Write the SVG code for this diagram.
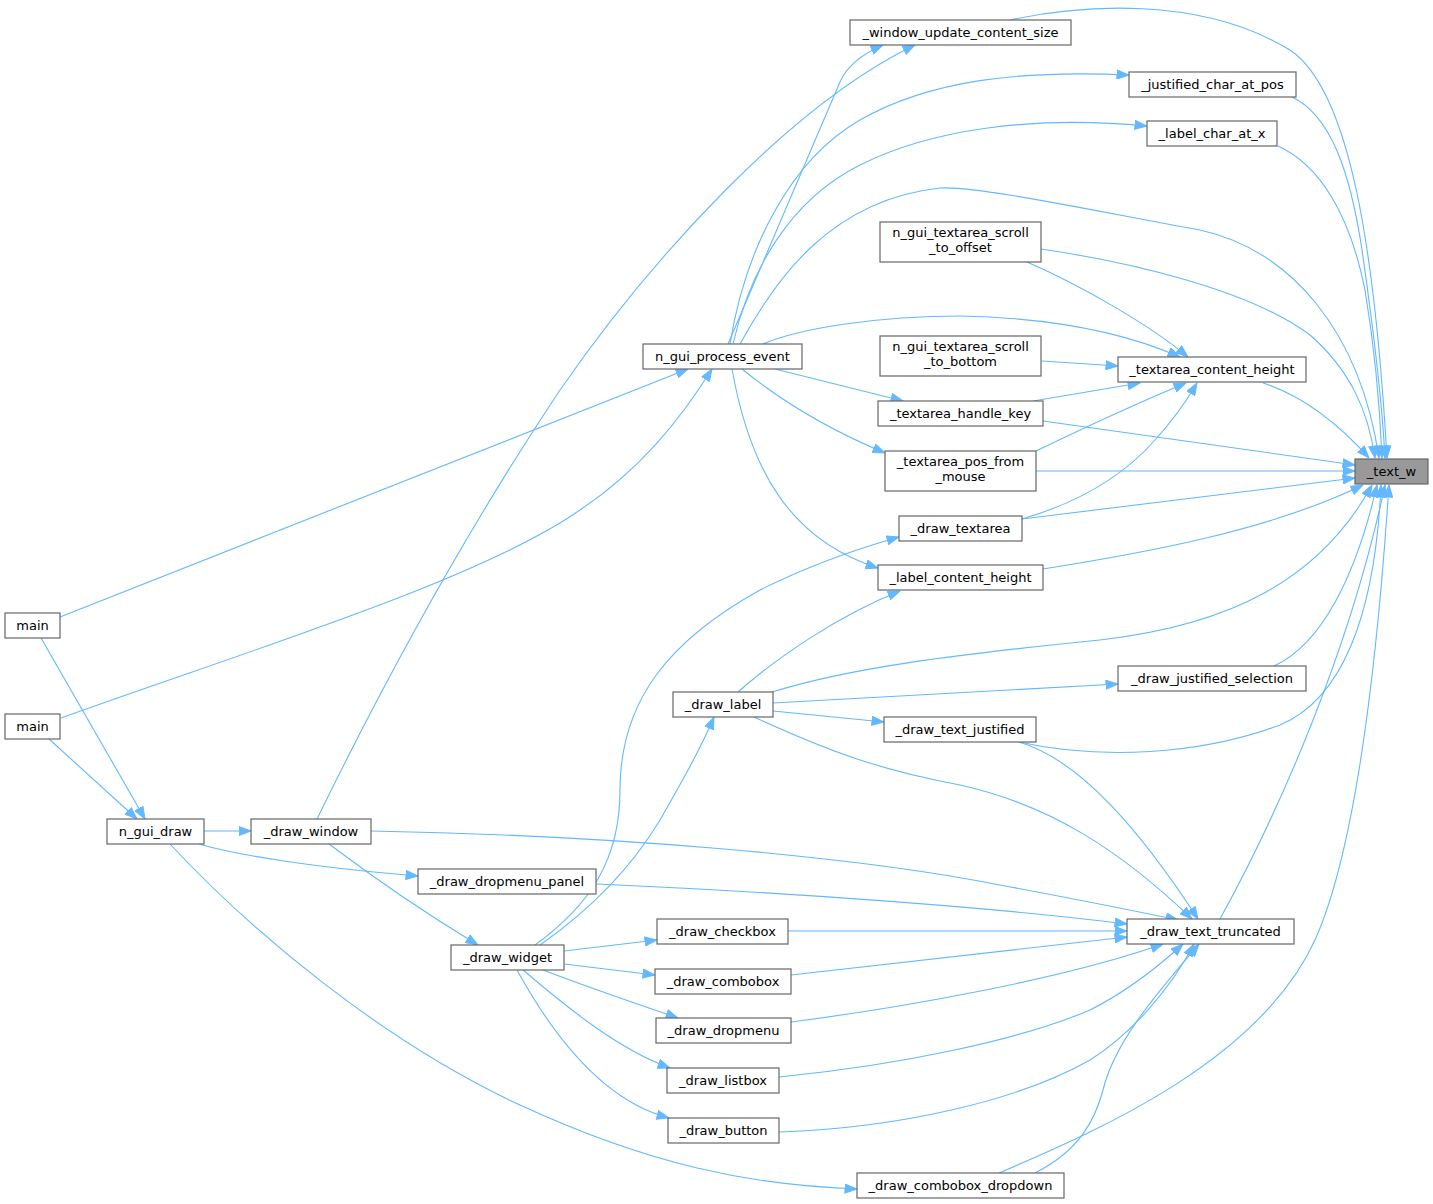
<svg xmlns="http://www.w3.org/2000/svg" width="1433" height="1204" viewBox="0 0 1433 1204">
<style>
.node rect{fill:#ffffff;stroke:#666666;stroke-width:1.2}
.node rect.hl{fill:#999999}
.node text{font-family:"DejaVu Sans","Liberation Sans",sans-serif;font-size:13px;fill:#000000;text-anchor:middle}
.edges path{fill:none;stroke:#63b8ff;stroke-width:1.1;marker-end:url(#ah)}
</style>
<defs>
<marker id="ah" markerUnits="userSpaceOnUse" markerWidth="13" markerHeight="10" refX="12.5" refY="5" orient="auto">
<path d="M0.5,0.5 L12.5,5 L0.5,9.5 z" fill="#63b8ff" stroke="#63b8ff" stroke-width="1"/>
</marker>
</defs>
<rect x="0" y="0" width="1433" height="1204" fill="#ffffff"/>
<g id="edges" class="edges">
<!-- into _text_w -->
<path d="M1010,20 C1080,5 1200,-5 1290,50 C1350,90 1375,250 1387,458"/>
<path d="M1292,97 C1330,115 1350,170 1362,250 C1375,340 1382,400 1385,458"/>
<path d="M1278,146 C1320,165 1350,215 1365,290 C1375,350 1380,410 1382,458"/>
<path d="M740,344 C775,280 830,200 940,188 C980,186 1100,212 1200,230 C1290,250 1360,330 1379,458"/>
<path d="M1041,249 C1130,262 1250,290 1310,335 C1350,370 1368,410 1375,458"/>
<path d="M1263,383 C1300,395 1335,420 1369,458"/>
<path d="M1043,421 L1355,465"/>
<path d="M1036,471 L1355,471"/>
<path d="M1022,519 L1355,478"/>
<path d="M1043,569 C1150,552 1270,530 1363,485"/>
<path d="M772,692 C850,668 950,655 1100,640 C1230,625 1320,580 1372,485"/>
<path d="M1274,666 C1320,645 1355,580 1377,485"/>
<path d="M1019,742 C1100,760 1200,755 1280,725 C1340,700 1375,620 1381,485"/>
<path d="M1220,919 C1280,810 1350,650 1385,485"/>
<path d="M999,1173 C1100,1130 1260,1060 1315,940 C1360,840 1380,620 1389,485"/>
<!-- into _textarea_content_height -->
<path d="M763,344 C800,328 880,316 960,316 C1060,318 1130,335 1180,357"/>
<path d="M1027,262 C1080,285 1150,325 1188,357"/>
<path d="M1042,361 L1118,366"/>
<path d="M1033,401 L1140,383"/>
<path d="M1036,451 C1090,425 1140,402 1186,383"/>
<path d="M1022,519 C1070,505 1120,480 1155,440 C1175,418 1190,395 1197,383"/>
<!-- n_gui_process_event callees -->
<path d="M728,344 L840,82 C846,68 860,55 883,45"/>
<path d="M730,344 C745,250 790,160 860,120 C930,80 1020,70 1129,75"/>
<path d="M733,344 C750,270 790,200 860,165 C930,130 1030,115 1147,126"/>
<path d="M775,369 L903,401"/>
<path d="M742,369 C780,400 830,430 885,453"/>
<path d="M732,369 C750,470 790,540 878,568"/>
<!-- into n_gui_process_event -->
<path d="M60,617 L688,369"/>
<path d="M61,718 C250,650 480,580 580,510 C640,470 680,420 712,369"/>
<!-- _draw_window -> _window_update_content_size -->
<path d="M317,819 C380,690 460,540 560,390 C650,260 790,105 915,45"/>
<!-- main -> n_gui_draw -->
<path d="M41,638 L145,819"/>
<path d="M49,739 L137,819"/>
<!-- n_gui_draw callees -->
<path d="M204,831 L251,831"/>
<path d="M199,844 C240,856 320,868 418,876"/>
<path d="M170,844 C250,930 380,1040 520,1105 C650,1165 750,1185 857,1189"/>
<!-- _draw_window callees -->
<path d="M329,844 C370,875 420,910 478,945"/>
<path d="M371,831 C600,835 850,855 1000,885 C1080,900 1140,912 1178,920"/>
<!-- into _draw_text_truncated -->
<path d="M596,884 C800,893 1000,908 1127,924"/>
<path d="M788,931 L1127,931"/>
<path d="M791,975 L1127,937"/>
<path d="M791,1022 C900,1008 1060,980 1163,944"/>
<path d="M779,1077 C900,1065 1020,1040 1090,1010 C1130,990 1160,965 1183,944"/>
<path d="M779,1132 C900,1128 1020,1100 1090,1060 C1130,1035 1170,990 1194,944"/>
<path d="M1035,1173 C1080,1150 1095,1120 1103,1090 C1115,1040 1160,990 1199,944"/>
<path d="M754,717 C830,752 880,770 960,785 C1050,805 1120,850 1192,919"/>
<path d="M1019,742 C1080,760 1140,830 1198,919"/>
<!-- _draw_label callees -->
<path d="M773,703 L1118,684"/>
<path d="M773,711 L884,722"/>
<path d="M738,692 C780,655 840,615 900,591"/>
<!-- _draw_widget callees -->
<path d="M540,945 C590,910 630,870 660,820 C680,785 700,750 714,717"/>
<path d="M535,945 C590,905 620,860 620,790 C620,700 670,640 760,590 C810,565 860,548 899,537"/>
<path d="M564,951 L657,940"/>
<path d="M564,964 L655,975"/>
<path d="M543,970 C590,988 640,1005 678,1018"/>
<path d="M523,970 C570,1010 620,1050 670,1068"/>
<path d="M517,970 C550,1030 600,1100 669,1118"/>
</g>
<g id="n_text_w" class="node"><rect class="hl" x="1355" y="459" width="73" height="25"/><text x="1391.5" y="476">_text_w</text></g>
<g id="n_window_update_content_size" class="node"><rect x="850" y="20" width="221" height="25"/><text x="960.5" y="37">_window_update_content_size</text></g>
<g id="n_justified_char_at_pos" class="node"><rect x="1129" y="72" width="167" height="25"/><text x="1212.5" y="89">_justified_char_at_pos</text></g>
<g id="n_label_char_at_x" class="node"><rect x="1147" y="121" width="130" height="25"/><text x="1212" y="138">_label_char_at_x</text></g>
<g id="n_scroll_to_offset" class="node"><rect x="880" y="222" width="161" height="40"/><text x="960.5" y="237">n_gui_textarea_scroll</text><text x="960.5" y="252">_to_offset</text></g>
<g id="n_scroll_to_bottom" class="node"><rect x="880" y="336" width="161" height="40"/><text x="960.5" y="351">n_gui_textarea_scroll</text><text x="960.5" y="366">_to_bottom</text></g>
<g id="n_textarea_content_height" class="node"><rect x="1118" y="357" width="188" height="25"/><text x="1212" y="374">_textarea_content_height</text></g>
<g id="n_gui_process_event" class="node"><rect x="643" y="344" width="159" height="25"/><text x="722.5" y="361">n_gui_process_event</text></g>
<g id="n_textarea_handle_key" class="node"><rect x="878" y="401" width="165" height="25"/><text x="960.5" y="418">_textarea_handle_key</text></g>
<g id="n_textarea_pos_from_mouse" class="node"><rect x="885" y="451" width="151" height="40"/><text x="960.5" y="466">_textarea_pos_from</text><text x="960.5" y="481">_mouse</text></g>
<g id="n_draw_textarea" class="node"><rect x="899" y="516" width="123" height="25"/><text x="960.5" y="533">_draw_textarea</text></g>
<g id="n_label_content_height" class="node"><rect x="878" y="565" width="165" height="25"/><text x="960.5" y="582">_label_content_height</text></g>
<g id="n_main1" class="node"><rect x="5" y="613" width="55" height="25"/><text x="32.5" y="630">main</text></g>
<g id="n_main2" class="node"><rect x="5" y="714" width="55" height="25"/><text x="32.5" y="731">main</text></g>
<g id="n_draw_justified_selection" class="node"><rect x="1118" y="666" width="188" height="25"/><text x="1212" y="683">_draw_justified_selection</text></g>
<g id="n_draw_label" class="node"><rect x="673" y="692" width="100" height="25"/><text x="723" y="709">_draw_label</text></g>
<g id="n_draw_text_justified" class="node"><rect x="884" y="717" width="152" height="25"/><text x="960" y="734">_draw_text_justified</text></g>
<g id="n_gui_draw" class="node"><rect x="107" y="819" width="97" height="25"/><text x="155.5" y="836">n_gui_draw</text></g>
<g id="n_draw_window" class="node"><rect x="251" y="819" width="120" height="25"/><text x="311" y="836">_draw_window</text></g>
<g id="n_draw_dropmenu_panel" class="node"><rect x="418" y="869" width="178" height="25"/><text x="507" y="886">_draw_dropmenu_panel</text></g>
<g id="n_draw_checkbox" class="node"><rect x="657" y="919" width="131" height="25"/><text x="722.5" y="936">_draw_checkbox</text></g>
<g id="n_draw_text_truncated" class="node"><rect x="1127" y="919" width="167" height="25"/><text x="1210.5" y="936">_draw_text_truncated</text></g>
<g id="n_draw_widget" class="node"><rect x="451" y="945" width="113" height="25"/><text x="507.5" y="962">_draw_widget</text></g>
<g id="n_draw_combobox" class="node"><rect x="655" y="969" width="136" height="25"/><text x="723" y="986">_draw_combobox</text></g>
<g id="n_draw_dropmenu" class="node"><rect x="656" y="1018" width="135" height="25"/><text x="723.5" y="1035">_draw_dropmenu</text></g>
<g id="n_draw_listbox" class="node"><rect x="667" y="1068" width="112" height="25"/><text x="723" y="1085">_draw_listbox</text></g>
<g id="n_draw_button" class="node"><rect x="668" y="1118" width="111" height="25"/><text x="723.5" y="1135">_draw_button</text></g>
<g id="n_draw_combobox_dropdown" class="node"><rect x="857" y="1173" width="207" height="25"/><text x="960.5" y="1190">_draw_combobox_dropdown</text></g>
</svg>
